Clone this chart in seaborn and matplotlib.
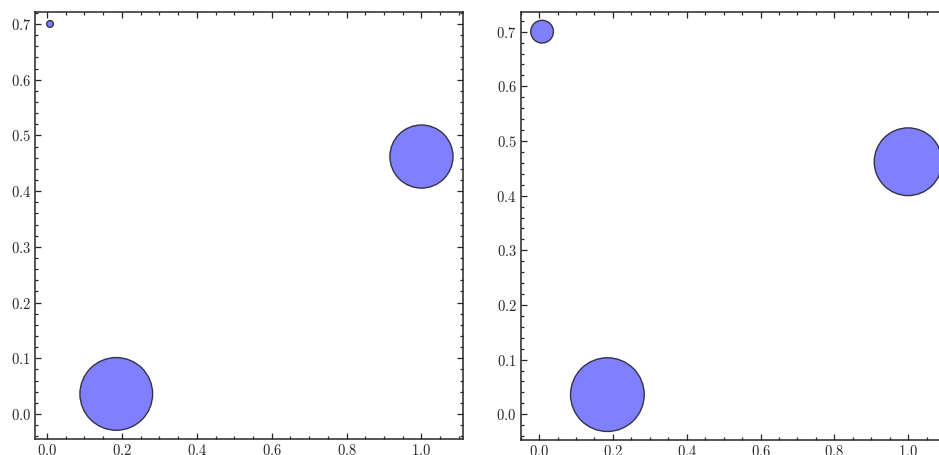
import numpy as np
import pandas as pd
import seaborn as sns
import matplotlib.pyplot as plt
from matplotlib.ticker import AutoMinorLocator

# point positions (same for both panels)
xs = [0.008, 0.185, 1.0]
ys = [0.700, 0.036, 0.462]

# marker areas (pt^2)
areas_left = [23, 2740, 2064]
areas_right = [267, 2816, 2375]

sns.set_style('ticks')
plt.rcParams['font.family'] = 'serif'
plt.rcParams['font.serif'] = ['cmr10', 'DejaVu Serif']
plt.rcParams['axes.formatter.use_mathtext'] = True
plt.rcParams['font.size'] = 10.5

fig = plt.figure(figsize=(9.39, 4.55), dpi=100)
ax1 = fig.add_axes([0.0373, 0.0352, 0.4558, 0.9385])
ax2 = fig.add_axes([0.5545, 0.0330, 0.4558, 0.9407])

panels = [
    (ax1, areas_left, (-0.032, 1.111), (-0.0449, 0.7215)),
    (ax2, areas_right, (-0.050, 1.110), (-0.047, 0.736)),
]

for ax, areas, xl, yl in panels:
    df = pd.DataFrame({'x': xs, 'y': ys, 'area': areas})
    sns.scatterplot(data=df, x='x', y='y', size='area',
                    sizes=(min(areas), max(areas)), legend=False,
                    color='#8080ff', edgecolor='#333344', linewidth=1.0,
                    alpha=1.0, ax=ax)
    ax.set_xlim(*xl)
    ax.set_ylim(*yl)
    ax.set_xticks([0.0, 0.2, 0.4, 0.6, 0.8, 1.0])
    ax.set_yticks([0.0, 0.1, 0.2, 0.3, 0.4, 0.5, 0.6, 0.7])
    ax.xaxis.set_minor_locator(AutoMinorLocator())
    ax.yaxis.set_minor_locator(AutoMinorLocator())
    ax.tick_params(which='both', direction='in', top=True, right=True,
                   width=0.9, pad=3)
    ax.tick_params(which='major', length=4.5)
    ax.tick_params(which='minor', length=2.2)
    ax.set_xlabel('')
    ax.set_ylabel('')
    for sp in ax.spines.values():
        sp.set_linewidth(1.1)

fig.savefig('out.png', dpi=100)
